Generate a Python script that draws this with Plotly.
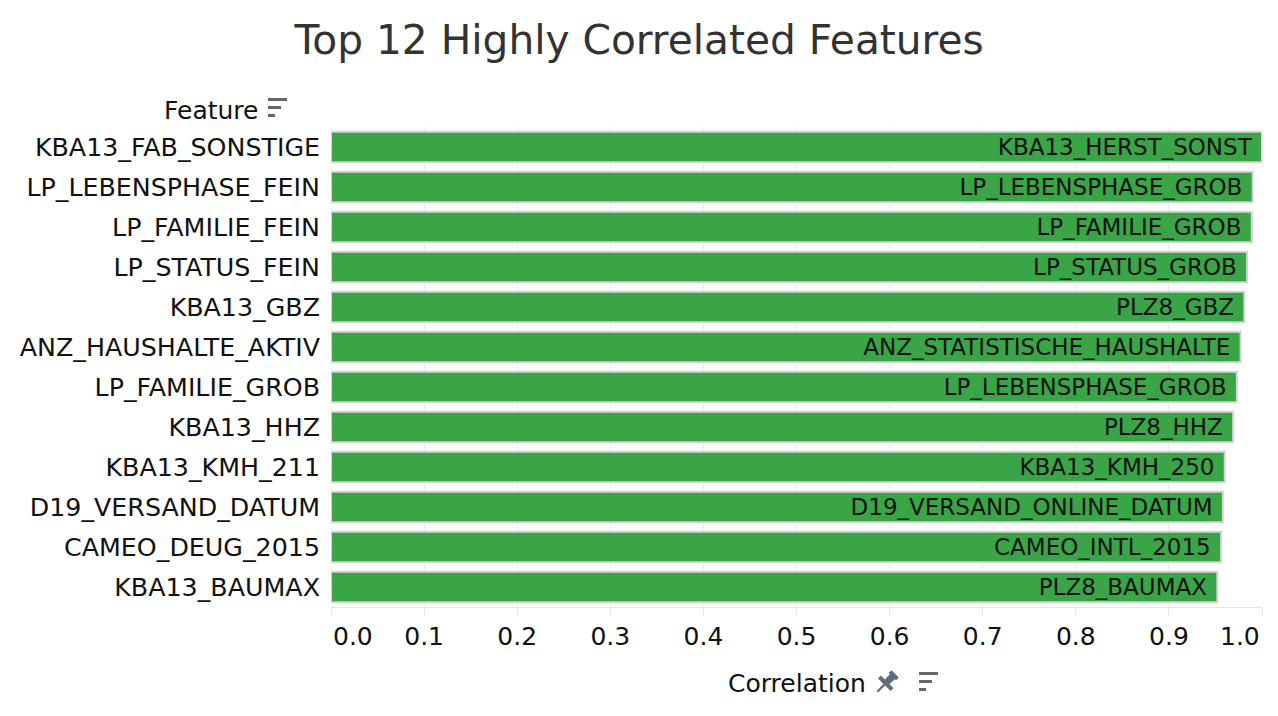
import math
import plotly.graph_objects as go

# top correlated feature pairs (feature -> the feature it correlates with)
features = [
    "KBA13_FAB_SONSTIGE", "LP_LEBENSPHASE_FEIN", "LP_FAMILIE_FEIN", "LP_STATUS_FEIN",
    "KBA13_GBZ", "ANZ_HAUSHALTE_AKTIV", "LP_FAMILIE_GROB", "KBA13_HHZ",
    "KBA13_KMH_211", "D19_VERSAND_DATUM", "CAMEO_DEUG_2015", "KBA13_BAUMAX",
]
correlated_with = [
    "KBA13_HERST_SONST", "LP_LEBENSPHASE_GROB", "LP_FAMILIE_GROB", "LP_STATUS_GROB",
    "PLZ8_GBZ", "ANZ_STATISTISCHE_HAUSHALTE", "LP_LEBENSPHASE_GROB", "PLZ8_HHZ",
    "KBA13_KMH_250", "D19_VERSAND_ONLINE_DATUM", "CAMEO_INTL_2015", "PLZ8_BAUMAX",
]
correlation = [1.0, 0.990, 0.989, 0.984, 0.981, 0.977, 0.973, 0.969, 0.960, 0.958, 0.956, 0.952]

x_ticks = [0.0, 0.1, 0.2, 0.3, 0.4, 0.5, 0.6, 0.7, 0.8, 0.9, 1.0]
x_tick_labels = ["0.0", "0.1", "0.2", "0.3", "0.4", "0.5", "0.6", "0.7", "0.8", "0.9", "1.0"]

FONT = "DejaVu Sans"
W, H = 1278, 716
PLOT_L, PLOT_T, PLOT_R, PLOT_B = 331, 127, 1262, 607
PLOT_W = PLOT_R - PLOT_L
PLOT_H = PLOT_B - PLOT_T


def px(x):
    return (x - PLOT_L) / PLOT_W


def py(y):
    return (PLOT_B - y) / PLOT_H


def sort_icon(x0, y0):
    # three grey bars, decreasing length (like the sort glyph)
    shapes = []
    for i, length in enumerate([19, 13, 7]):
        top = y0 + i * 8
        shapes.append(dict(type="rect", xref="paper", yref="paper",
                           x0=px(x0), x1=px(x0 + length), y0=py(top), y1=py(top + 3),
                           fillcolor="#666666", line_width=0, layer="above"))
    return shapes


def pin_icon(cx, cy, k=1.25):
    # push pin tilted 45 degrees, head up-right, needle down-left
    ux, uy = -k / math.sqrt(2), k / math.sqrt(2)
    vx, vy = k / math.sqrt(2), k / math.sqrt(2)
    outline = [(0, 4), (3, 4), (3, 2.6), (9, 2.6), (9, 7), (12, 7),
               (12, -7), (9, -7), (9, -2.6), (3, -2.6), (3, -4), (0, -4)]
    pts = [(cx + t * ux + s * vx, cy + t * uy + s * vy) for t, s in outline]
    path = "M " + " L ".join(f"{px(a)},{py(b)}" for a, b in pts) + " Z"
    nx0, ny0 = cx + 12 * ux, cy + 12 * uy
    nx1, ny1 = cx + 20 * ux, cy + 20 * uy
    return [
        dict(type="path", xref="paper", yref="paper", path=path,
             fillcolor="#5e6e7e", line=dict(color="#5e6e7e", width=0.5), layer="above"),
        dict(type="line", xref="paper", yref="paper",
             x0=px(nx0), y0=py(ny0), x1=px(nx1), y1=py(ny1),
             line=dict(color="#5e6e7e", width=2.2), layer="above"),
    ]


fig = go.Figure()
fig.add_trace(go.Bar(
    x=correlation,
    y=features,
    orientation="h",
    text=correlated_with,
    texttemplate="%{text}\u00a0",
    textposition="inside",
    insidetextanchor="end",
    textangle=0,
    constraintext="none",
    textfont=dict(family=FONT, size=23, color="#111111"),
    marker=dict(color="#39a547", line=dict(color="#d4d4d4", width=2)),
    hovertemplate="%{y} ~ %{text}: %{x:.3f}<extra></extra>",
))

tick_text = [""] + x_tick_labels[1:-1] + [""]

annotations = [
    dict(text="Feature", xref="paper", yref="paper", x=px(260), y=py(110),
         xanchor="right", yanchor="middle", showarrow=False,
         font=dict(family=FONT, size=25, color="#111111")),
    dict(text="Correlation", xref="paper", yref="paper", x=0.5, y=py(683),
         xanchor="center", yanchor="middle", showarrow=False,
         font=dict(family=FONT, size=25, color="#111111")),
    # first/last tick labels kept flush with the axis ends
    dict(text=x_tick_labels[0], xref="x", yref="paper", x=x_ticks[0], y=0,
         xanchor="left", yanchor="middle", yshift=-29, showarrow=False,
         font=dict(family=FONT, size=25, color="#111111")),
    dict(text=x_tick_labels[-1], xref="x", yref="paper", x=x_ticks[-1], y=0,
         xanchor="right", yanchor="middle", yshift=-29, showarrow=False,
         font=dict(family=FONT, size=25, color="#111111")),
]

shapes = sort_icon(268, 98) + sort_icon(919, 672) + pin_icon(895, 674)

fig.update_layout(
    width=W,
    height=H,
    autosize=False,
    paper_bgcolor="white",
    plot_bgcolor="white",
    margin=dict(l=PLOT_L, r=W - PLOT_R, t=PLOT_T, b=H - PLOT_B, pad=0),
    title=dict(text="Top 12 Highly Correlated Features", x=0.5, xanchor="center",
               y=1 - 40 / H, yanchor="middle",
               font=dict(family=FONT, size=40.7, color="#333333")),
    font=dict(family=FONT, size=25, color="#111111"),
    bargap=0.24,
    showlegend=False,
    annotations=annotations,
    shapes=shapes,
)
fig.update_xaxes(
    range=[0, 1.0],
    tickvals=x_ticks,
    ticktext=tick_text,
    ticks="outside",
    ticklen=7,
    tickcolor="#e6e6e6",
    showgrid=True,
    gridcolor="#ececec",
    zeroline=False,
    showline=True,
    linecolor="#e6e6e6",
    tickfont=dict(family=FONT, size=25, color="#111111"),
)
fig.update_yaxes(
    categoryorder="array",
    categoryarray=features,
    autorange="reversed",
    ticks="",
    showgrid=False,
    zeroline=False,
    ticklabelstandoff=10,
    tickfont=dict(family=FONT, size=25.3, color="#111111"),
)

fig.write_html("out.html", config={"displayModeBar": False},
               post_script="document.body.style.margin='0';")
